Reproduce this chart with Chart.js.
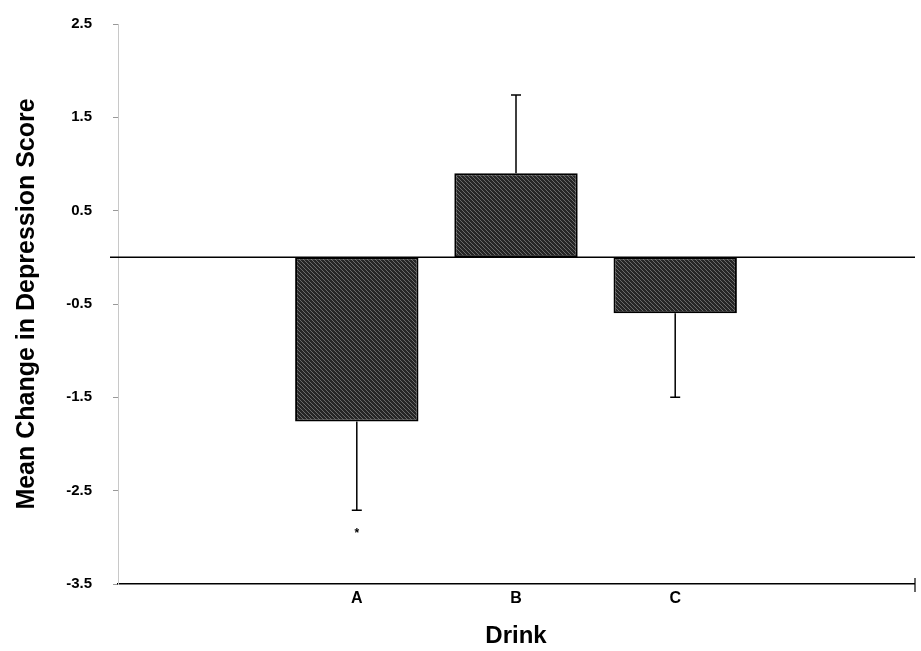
<!DOCTYPE html>
<html>
<head>
<meta charset="utf-8">
<script src="https://cdn.jsdelivr.net/npm/chart.js@4.4.1/dist/chart.umd.min.js"></script>
<style>
  html, body { margin: 0; padding: 0; background: #fff; }
  #wrap { width: 921px; height: 651px; }
</style>
</head>
<body>
<div id="wrap"><canvas id="chart" width="921" height="651"></canvas></div>
<script>
// --- data ---
const categories = ['', 'A', 'B', 'C', ''];
const means = [null, -1.76, 0.90, -0.60, null];
const errorEnds = [null, -2.71, 1.74, -1.50, null];   // one-sided error bars
const yTicks = [-3.5, -2.5, -1.5, -0.5, 0.5, 1.5, 2.5];
const markers = [{ index: 1, value: -2.93, text: '*' }];

const FONT = '"Liberation Sans", Arial, sans-serif';

// dithered grey fill like the scanned bars
const makeFill = () => {
    const c = document.createElement('canvas');
    c.width = 4; c.height = 4;
    const g = c.getContext('2d');
    g.fillStyle = '#6a6a6a';
    g.fillRect(0, 0, 4, 4);
    g.fillStyle = '#262626';
    for (let i = 0; i < 4; i++) {
        g.fillRect(i, (i + 1) % 4, 1, 1);
        g.fillRect(i, (i + 2) % 4, 1, 1);
        g.fillRect(i, (i + 3) % 4, 1, 1);
    }
    return g.createPattern(c, 'repeat');
};

const extrasPlugin = {
    id: 'extras',
    afterDatasetsDraw(chart) {
        const { ctx, chartArea } = chart;
        const x = chart.scales.x;
        const y = chart.scales.y;
        ctx.save();
        ctx.strokeStyle = '#000';

        // zero line
        ctx.lineWidth = 1.5;
        const y0 = y.getPixelForValue(0);
        ctx.beginPath();
        ctx.moveTo(110, y0);
        ctx.lineTo(chartArea.right + 1, y0);
        ctx.stroke();

        // error bars
        errorEnds.forEach((v, i) => {
            if (v === null) return;
            const px = x.getPixelForValue(i);
            const from = y.getPixelForValue(means[i]);
            const to = y.getPixelForValue(v);
            ctx.lineWidth = 1.5;
            ctx.beginPath();
            ctx.moveTo(px, from);
            ctx.lineTo(px, to);
            ctx.moveTo(px - 5, to);
            ctx.lineTo(px + 5, to);
            ctx.stroke();
        });

        // small end tick at right of the bottom line
        ctx.lineWidth = 1.2;
        ctx.beginPath();
        ctx.moveTo(chartArea.right + 1, chartArea.bottom - 6);
        ctx.lineTo(chartArea.right + 1, chartArea.bottom + 8);
        ctx.stroke();

        // significance marks
        ctx.fillStyle = '#000';
        ctx.font = 'bold 12px ' + FONT;
        ctx.textAlign = 'center';
        ctx.textBaseline = 'middle';
        markers.forEach(m => {
            ctx.fillText(m.text, x.getPixelForValue(m.index), y.getPixelForValue(m.value) + 3);
        });
        ctx.restore();
    }
};

new Chart(document.getElementById('chart'), {
    type: 'bar',
    data: {
        labels: categories,
        datasets: [{
            data: means,
            backgroundColor: makeFill(),
            borderColor: '#000',
            borderWidth: 2,
            borderSkipped: false,
            categoryPercentage: 1,
            barPercentage: 0.775
        }]
    },
    options: {
        responsive: false,
        animation: false,
        layout: { padding: { top: 24, right: 7, left: 0, bottom: 0 } },
        plugins: { legend: { display: false }, tooltip: { enabled: false } },
        scales: {
            x: {
                grid: { display: false },
                border: { color: '#000', width: 1.5 },
                ticks: { color: '#000', font: { family: FONT, size: 16, weight: 'bold' }, padding: -3 },
                title: {
                    display: true, text: 'Drink', color: '#000',
                    font: { family: FONT, size: 24, weight: 'bold' },
                    padding: { top: 18, bottom: 0 }
                },
                afterFit: (s) => { s.height = 67; }
            },
            y: {
                min: -3.5,
                max: 2.5,
                afterBuildTicks: (s) => { s.ticks = yTicks.map(v => ({ value: v })); },
                grid: { drawOnChartArea: false, color: '#999', tickLength: 5 },
                border: { color: '#c8c8c8', width: 1 },
                ticks: {
                    color: '#000',
                    font: { family: FONT, size: 15, weight: 'bold' },
                    padding: 21,
                    callback: (v) => Number(v).toFixed(1)
                },
                title: {
                    display: true, text: 'Mean Change in Depression Score', color: '#000',
                    font: { family: FONT, size: 25, weight: 'bold' },
                    padding: { top: 12, bottom: 0 }
                },
                afterFit: (s) => { s.width = 118; s.paddingTop = 0; s.paddingBottom = 0; }
            }
        }
    },
    plugins: [extrasPlugin]
});
</script>
</body>
</html>
